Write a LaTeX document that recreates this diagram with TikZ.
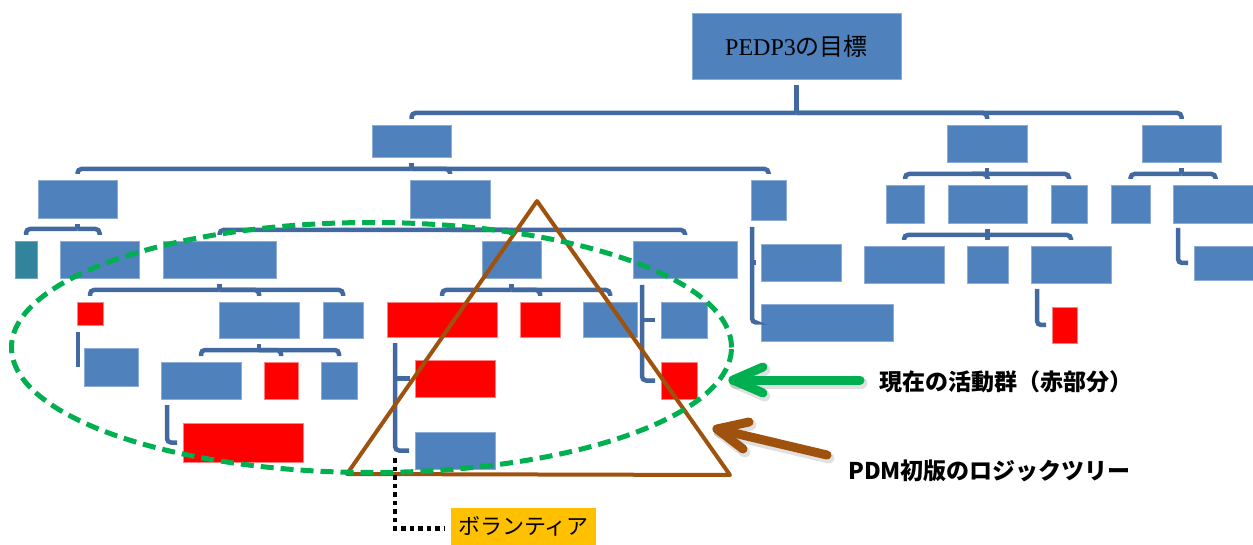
\documentclass[tikz,border=0pt]{standalone}
\usepackage{fontspec}
\usetikzlibrary{calc}
\newfontfamily\jp{Noto Sans CJK JP}
\newfontfamily\tms{Liberation Serif}

\definecolor{boxblue}{RGB}{79,129,189}
\definecolor{boxedge}{RGB}{140,172,214}
\definecolor{linkblue}{RGB}{66,106,160}
\definecolor{actred}{RGB}{255,0,0}
\definecolor{rededge}{RGB}{255,130,130}
\definecolor{tealbox}{RGB}{49,132,155}
\definecolor{ovalgreen}{RGB}{0,176,80}
\definecolor{treebrown}{RGB}{158,82,14}
\definecolor{tagorange}{RGB}{255,192,0}

\tikzset{
  blk/.style={rectangle, inner sep=0pt, outer sep=0pt, fill=boxblue, draw=boxedge, line width=0.7pt},
  act/.style={fill=actred, draw=rededge},
  tealblk/.style={fill=tealbox, draw=tealbox!70!white},
  tag/.style={rectangle, inner sep=0pt, outer sep=0pt, fill=tagorange},
  link/.style={draw=linkblue, line width=4.5pt},
  hook/.style={link, rounded corners=4pt},
  dotline/.style={draw=black, line width=4.5pt, dash pattern=on 4.5pt off 4pt},
  garrow/.style={draw=ovalgreen, line width=9pt, line cap=round, line join=round},
  barrow/.style={draw=treebrown, line width=9pt, line cap=round, line join=round},
  shade/.style={draw=black, opacity=0.12, line width=11pt, line cap=round, line join=round},
  callout/.style={inner sep=0pt, anchor=west, font=\jp\bfseries\fontsize{23}{26}\selectfont},
}

% \tbox[style]{name}{x1}{y1}{x2}{y2}{text}
\newcommand\tbox[7][]{%
  \node[blk,#1,minimum width={(#5-#3)*1pt},minimum height={(#6-#4)*1pt}]
    (#2) at ({(#3+#5)/2},{(#4+#6)/2}) {#7};}

% \bracket{parent}{bar y}{children}
\newcommand\bracket[3]{%
  \coordinate (bar#1) at (0,#2);
  \draw[link] ($(#1.south)+(0,6)$) -- (#1.south |- bar#1);
  \foreach \ch in {#3}{\draw[hook] (#1.south |- bar#1) -| ($(\ch.north)+(0,-6)$);}
}

\begin{document}
\begin{tikzpicture}[x=1pt,y=-1pt]
\useasboundingbox (0,0) rectangle (1253,545);
\clip (0,0) rectangle (1253,545);

% goal
\tbox{A0}{692}{13}{901}{79}{\fontsize{24}{28}\selectfont{\tms PEDP3}{\jp の目標}}

% first level
\tbox{B1}{372}{125}{451}{157}{}
\tbox{B2}{947}{125}{1027}{162}{}
\tbox{B3}{1142}{125}{1221}{162}{}

% second level
\tbox{C1}{38}{180}{117}{218}{}
\tbox{C2}{410}{180}{490}{218}{}
\tbox{C3}{751}{180}{786}{220}{}
\tbox{F1}{886}{185}{924}{223}{}
\tbox{F2}{948}{185}{1027}{223}{}
\tbox{F3}{1051}{185}{1087}{223}{}
\tbox{F4}{1111}{185}{1150}{223}{}
\tbox{F5}{1173}{185}{1258}{223}{}

% third level
\tbox[tealblk]{D1}{15}{241}{37}{278}{}
\tbox{D2}{60}{241}{139}{278}{}
\tbox{D3}{163}{241}{276}{278}{}
\tbox{D4}{482}{241}{541}{278}{}
\tbox{D5}{633}{241}{737}{278}{}
\tbox{E1}{761}{244}{841}{281}{}
\tbox{E2}{761}{304}{893}{341}{}
\tbox{G1}{864}{246}{944}{283}{}
\tbox{G2}{967}{246}{1008}{283}{}
\tbox{G3}{1031}{246}{1111}{283}{}
\tbox{F6}{1194}{246}{1258}{280}{}

% fourth level
\tbox[act]{R1}{77}{302}{103}{325}{}
\tbox{D31}{219}{302}{299}{338}{}
\tbox{D32}{323}{302}{363}{338}{}
\tbox[act]{R4}{387}{302}{497}{337}{}
\tbox[act]{R5}{520}{302}{560}{337}{}
\tbox{D43}{583}{302}{637}{337}{}
\tbox{D51}{661}{302}{707}{338}{}
\tbox[act]{R7}{661}{362}{697}{399}{}
\tbox[act]{H1}{1052}{307}{1077}{343}{}

% fifth level and below
\tbox{D311}{84}{348}{138}{386}{}
\tbox{D41}{161}{362}{241}{399}{}
\tbox[act]{R2}{264}{362}{298}{399}{}
\tbox{D42}{321}{362}{357}{399}{}
\tbox[act]{R3}{183}{423}{303}{462}{}
\tbox[act]{R6}{415}{360}{495}{397}{}
\tbox{D44}{415}{432}{495}{469}{}

% brackets
\bracket{A0}{113}{B1,B2,B3}
\bracket{B1}{169}{C1,C2,C3}
\bracket{B2}{174}{F1,F2,F3}
\bracket{B3}{174}{F4,F5}
\bracket{C1}{229}{D1,D2}
\bracket{C2}{230}{D3,D4,D5}
\bracket{F2}{235}{G1,G2,G3}
\bracket{D3}{290}{R1,D31,D32}
\bracket{D31}{350}{D41,R2,D42}
\bracket{D4}{290}{R4,R5,D43}

% side branches
\coordinate (sR1) at ($(R1.south west)+(1,7)$);
\draw[hook] (sR1) |- ($(D311.west)+(-6,0)$);
\coordinate (sD41) at ($(D41.south west)+(6,6)$);
\draw[hook] (sD41) |- ($(R3.west)+(-6,0)$);
\coordinate (sG3) at ($(G3.south west)+(6,6)$);
\draw[hook] (sG3) |- ($(H1.west)+(-6,0)$);
\coordinate (sF5) at ($(F5.south west)+(5,5)$);
\draw[hook] (sF5) |- ($(F6.west)+(-6,0)$);
\coordinate (sR4) at ($(R4.south west)+(8,6)$);
\draw[link] (sR4) |- ($(R6.west)+(-5,0)$);
\draw[hook] (sR4) |- ($(D44.west)+(-6,0)$);
\coordinate (sD5) at ($(D5.south west)+(9,7)$);
\draw[link] (sD5) |- ($(D51.west)+(-6,0)$);
\draw[hook] (sD5) |- ($(R7.west)+(-6,0)$);
\coordinate (sC3) at ($(C3.south west)+(1,7)$);
\draw[link] (sC3) |- ($(E1.west)+(-5,0)$);
\draw[hook] (sC3) |- ($(E2.west)+(-6,0)$);

% logic tree triangle and current-activity oval
\draw[treebrown, line width=4pt, line join=round] (537,201) -- (347,474) -- (730,475) -- cycle;
\draw[ovalgreen, line width=5pt, dash pattern=on 13pt off 7pt] (371.5,347.5) ellipse [x radius=360pt, y radius=125pt];

% volunteer tag
\node[tag, minimum width=145pt, minimum height=37pt, font=\jp\fontsize{22}{24}\selectfont] (vol) at (523.5,526.5) {ボランティア};
\coordinate (dv) at (395,458);
\draw[dotline] (dv) |- ($(vol.west)+(-6,2)$);

% callouts
\node[callout] (lblNow) at (879,382) {現在の活動群（赤部分）};
\node[callout] (lblPdm) at (848,471) {PDM初版のロジックツリー};

\coordinate (gTail) at ($(lblNow.west)+(-19,-2)$);
\coordinate (gTip) at (733,380);
\coordinate (bTail) at ($(lblPdm.west)+(-21,-16)$);
\coordinate (bTip) at (717,429);

\draw[shade] ($(gTail)+(2,3)$) -- ($(gTip)+(2,3)$);
\draw[shade] ($(gTip)+(32,-10)$) -- ($(gTip)+(2,3)$) -- ($(gTip)+(32,16)$);
\draw[shade] ($(bTail)+(2,3)$) -- ($(bTip)+(2,3)$);
\draw[shade] ($(bTip)+(34,-4)$) -- ($(bTip)+(2,3)$) -- ($(bTip)+(28,23)$);

\draw[garrow] (gTail) -- (gTip);
\draw[garrow] ($(gTip)+(30,-13)$) -- (gTip) -- ($(gTip)+(30,13)$);
\draw[barrow] (bTail) -- (bTip);
\draw[barrow] ($(bTip)+(32,-7)$) -- (bTip) -- ($(bTip)+(26,20)$);
\end{tikzpicture}
\end{document}
